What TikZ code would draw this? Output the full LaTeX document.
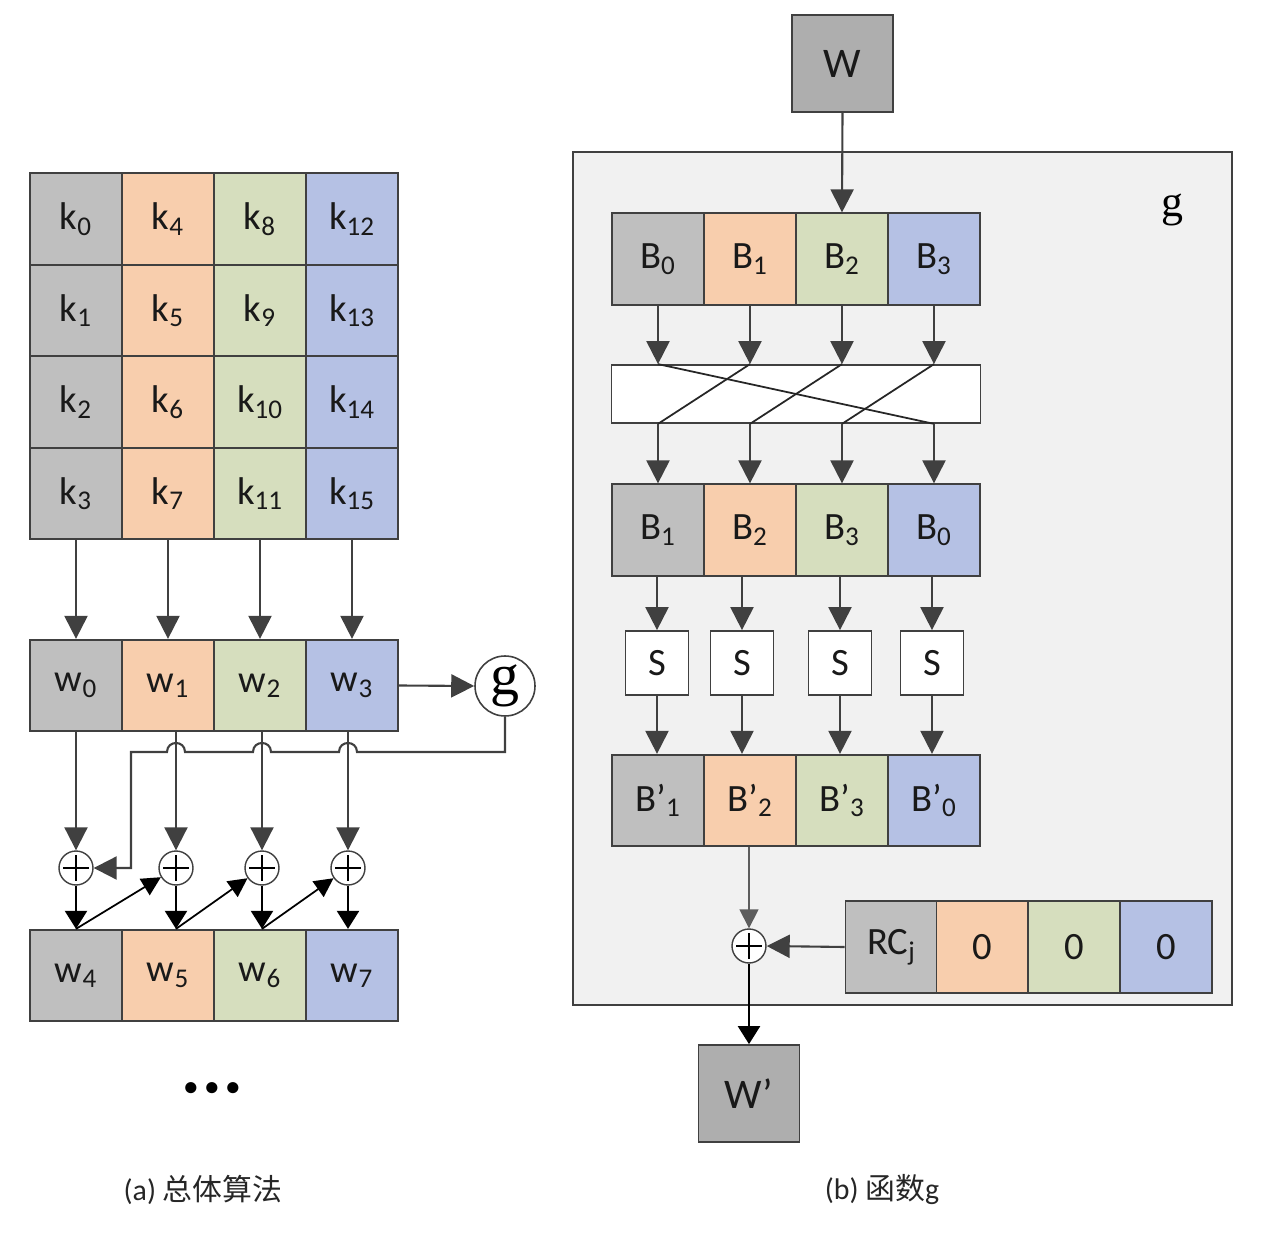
\documentclass[tikz,border=0pt]{standalone}
\usepackage{fontspec}
\setmainfont{Carlito}
\newfontfamily\cjk{Noto Sans CJK SC}
\newfontfamily\gfont{Liberation Serif}
\usetikzlibrary{arrows.meta}
\definecolor{cgray}{RGB}{191,191,191}
\definecolor{wgray}{RGB}{174,174,174}
\definecolor{corange}{RGB}{248,206,173}
\definecolor{cgreen}{RGB}{214,222,190}
\definecolor{cblue}{RGB}{181,193,228}
\definecolor{lnc}{RGB}{64,64,64}
\definecolor{boxbg}{RGB}{241,241,241}
\begin{document}
\begin{tikzpicture}[x=0.02cm,y=-0.02cm,
  lbl/.style={font=\fontsize{22}{26}\selectfont, text=black!90},
  cell/.style={lbl, draw=lnc, line width=1pt, minimum width=1.84cm, minimum height=1.83cm, inner sep=0pt},
  sbox/.style={lbl, draw=lnc, fill=white, line width=1pt, minimum width=1.26cm, minimum height=1.28cm, inner sep=0pt},
  xorn/.style={circle, draw=lnc, fill=white, line width=0.8pt, minimum size=0.68cm, inner sep=0pt,
    path picture={\draw[black, line width=1.3pt]
      ([yshift=-2.5pt]path picture bounding box.north) -- ([yshift=2.5pt]path picture bounding box.south)
      ([xshift=2.5pt]path picture bounding box.west) -- ([xshift=-2.5pt]path picture bounding box.east);}},
  arr/.style={lnc, line width=1.2pt, -{Triangle[length=0.46cm,width=0.46cm]}},
  barr/.style={black, line width=1.3pt, -{Triangle[length=0.36cm,width=0.44cm]}},
  darr/.style={black, line width=1pt, -{Triangle[length=0.38cm,width=0.38cm]}},
  garr/.style={lnc!85, line width=0.9pt, -{Triangle[length=0.38cm,width=0.38cm]}},
  perm/.style={black!85, line width=1pt},
  bigbox/.style={draw=lnc, fill=boxbg, line width=1.1pt, minimum width=13.18cm, minimum height=17.06cm, inner sep=0pt},
  wbox/.style={lbl, font=\fontsize{24}{28}\selectfont, draw=lnc, fill=wgray, line width=1pt, minimum width=2.02cm, minimum height=1.94cm, inner sep=0pt},
  captxt/.style={font=\fontsize{17}{20}\selectfont, text=black!85}
]
\useasboundingbox (0,0) rectangle (1285,1236);

% ---------- (a) ----------
\foreach \c/\col in {0/cgray,1/corange,2/cgreen,3/cblue}{
  \foreach \r in {0,...,3}{
    \pgfmathtruncatemacro\idx{4*\c+\r}
    \node[cell, fill=\col] (k\idx) at ({76+92*\c},{219+91.5*\r}) {k\textsubscript{\idx}};
  }
}
\node[cell, fill=cgray]   (w0) at (76,685.5)  {w\textsubscript{0}};
\node[cell, fill=corange] (w1) at (168,685.5) {w\textsubscript{1}};
\node[cell, fill=cgreen]  (w2) at (260,685.5) {w\textsubscript{2}};
\node[cell, fill=cblue]   (w3) at (352,685.5) {w\textsubscript{3}};
\node[cell, fill=cgray]   (w4) at (76,975.5)  {w\textsubscript{4}};
\node[cell, fill=corange] (w5) at (168,975.5) {w\textsubscript{5}};
\node[cell, fill=cgreen]  (w6) at (260,975.5) {w\textsubscript{6}};
\node[cell, fill=cblue]   (w7) at (352,975.5) {w\textsubscript{7}};

\draw[arr] (k3.south) -- (w0.north);
\draw[arr] (k7.south) -- (w1.north);
\draw[arr] (k11.south) -- (w2.north);
\draw[arr] (k15.south) -- (w3.north);

\node[circle, draw=lnc, fill=white, line width=0.9pt, minimum size=1.2cm, inner sep=0pt,
      font=\gfont\fontsize{33}{36}\selectfont] (g) at (505,686) {g};
\draw[arr] (w3.east) -- (g.west);

\node[xorn] (x0) at (76,868) {};
\node[xorn] (x1) at (176,868) {};
\node[xorn] (x2) at (262,868) {};
\node[xorn] (x3) at (348,868) {};

\draw[arr] (w0.south) -- (x0.north);
\draw[arr] (x1 |- w1.south) -- (x1.north);
\draw[arr] (x2 |- w2.south) -- (x2.north);
\draw[arr] (x3 |- w3.south) -- (x3.north);

\draw[arr] (g.south) -- (505,752) -- (357,752) .. controls (357,740) and (339,740) .. (339,752)
  -- (271,752) .. controls (271,740) and (253,740) .. (253,752)
  -- (185,752) .. controls (185,740) and (167,740) .. (167,752)
  -- (131,752) -- (131,868) -- (x0.east);

\coordinate (l0) at (x0 |- w4.north);
\coordinate (l1) at (x1 |- w5.north);
\coordinate (l2) at (x2 |- w6.north);
\coordinate (l3) at (x3 |- w7.north);
\draw[barr] (x0.south) -- (l0);
\draw[barr] (x1.south) -- (l1);
\draw[barr] (x2.south) -- (l2);
\draw[barr] (x3.south) -- (l3);
\draw[darr] (l0) -- (x1);
\draw[darr] (l1) -- (x2);
\draw[darr] (l2) -- (x3);

\node[font=\fontsize{15}{18}\selectfont\bfseries] (dots) at (212,1089)
  {\textbullet\hspace{4.5pt}\textbullet\hspace{4.5pt}\textbullet};

\node[captxt] (capa) at (203,1190) {(a) {\cjk 总体算法}};

% ---------- (b) ----------
\node[bigbox] (gb) at (902.5,578.5) {};
\node[font=\gfont\fontsize{25}{28}\selectfont] (glbl) at (1172,210) {g};

\node[wbox] (W) at (842.5,63.5) {W};

\node[cell, fill=cgray]   (b0) at (658,259) {B\textsubscript{0}};
\node[cell, fill=corange] (b1) at (750,259) {B\textsubscript{1}};
\node[cell, fill=cgreen]  (b2) at (842,259) {B\textsubscript{2}};
\node[cell, fill=cblue]   (b3) at (934,259) {B\textsubscript{3}};
\draw[arr] (W.south) -- (b2.north);

\node[draw=lnc, fill=white, line width=1pt, minimum width=7.38cm, minimum height=1.16cm, inner sep=0pt] (pm) at (796,394) {};

\node[cell, fill=cgray]   (c0) at (658,530) {B\textsubscript{1}};
\node[cell, fill=corange] (c1) at (750,530) {B\textsubscript{2}};
\node[cell, fill=cgreen]  (c2) at (842,530) {B\textsubscript{3}};
\node[cell, fill=cblue]   (c3) at (934,530) {B\textsubscript{0}};

\draw[arr] (b0.south) -- (b0 |- pm.north);
\draw[arr] (b1.south) -- (b1 |- pm.north);
\draw[arr] (b2.south) -- (b2 |- pm.north);
\draw[arr] (b3.south) -- (b3 |- pm.north);
\draw[perm] (b0 |- pm.north) -- (c3 |- pm.south);
\draw[perm] (b1 |- pm.north) -- (c0 |- pm.south);
\draw[perm] (b2 |- pm.north) -- (c1 |- pm.south);
\draw[perm] (b3 |- pm.north) -- (c2 |- pm.south);
\draw[arr] (c0 |- pm.south) -- (c0.north);
\draw[arr] (c1 |- pm.south) -- (c1.north);
\draw[arr] (c2 |- pm.south) -- (c2.north);
\draw[arr] (c3 |- pm.south) -- (c3.north);

\node[sbox] (s0) at (657,663) {S};
\node[sbox] (s1) at (742,663) {S};
\node[sbox] (s2) at (840,663) {S};
\node[sbox] (s3) at (932,663) {S};

\node[cell, fill=cgray]   (d0) at (658,800.5) {B\textquoteright\textsubscript{1}};
\node[cell, fill=corange] (d1) at (750,800.5) {B\textquoteright\textsubscript{2}};
\node[cell, fill=cgreen]  (d2) at (842,800.5) {B\textquoteright\textsubscript{3}};
\node[cell, fill=cblue]   (d3) at (934,800.5) {B\textquoteright\textsubscript{0}};

\draw[arr] (s0 |- c0.south) -- (s0.north);
\draw[arr] (s1 |- c1.south) -- (s1.north);
\draw[arr] (s2 |- c2.south) -- (s2.north);
\draw[arr] (s3 |- c3.south) -- (s3.north);
\draw[arr] (s0.south) -- (s0 |- d0.north);
\draw[arr] (s1.south) -- (s1 |- d1.north);
\draw[arr] (s2.south) -- (s2 |- d2.north);
\draw[arr] (s3.south) -- (s3 |- d3.north);

\node[xorn] (xr) at (749,946) {};
\node[cell, fill=cgray]   (r0) at (891.5,947) {RC\textsubscript{j}};
\node[cell, fill=corange] (r1) at (982.5,947) {0};
\node[cell, fill=cgreen]  (r2) at (1074,947) {0};
\node[cell, fill=cblue]   (r3) at (1166,947) {0};

\draw[garr] (d1.south -| xr) -- (xr.north);
\draw[arr] (r0.west) -- (xr.east);

\node[wbox] (Wp) at (749,1093.5) {W\textquoteright};
\draw[barr] (xr.south) -- (Wp.north);

\node[captxt] (capb) at (882,1190) {(b) {\cjk 函数}g};
\end{tikzpicture}
\end{document}
